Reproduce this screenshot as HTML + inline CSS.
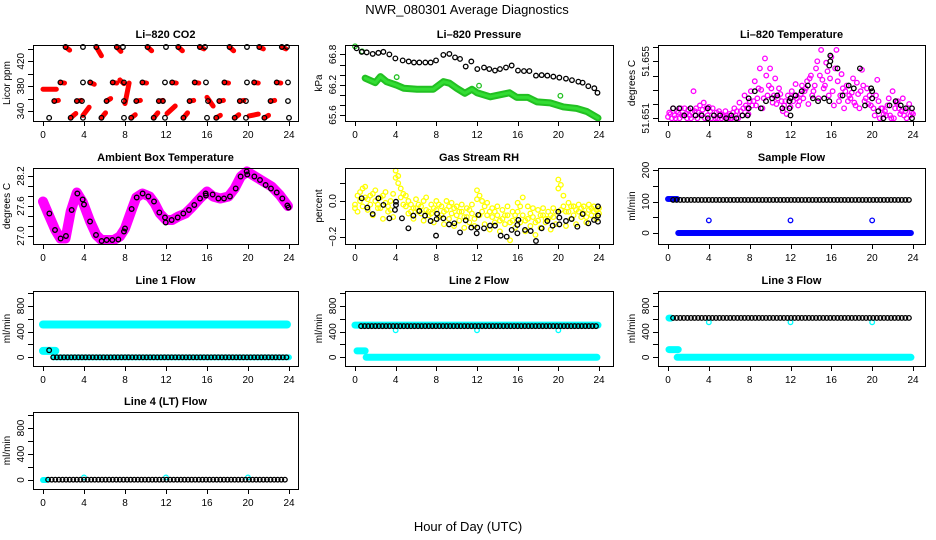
<!DOCTYPE html>
<html><head><meta charset="utf-8"><style>
html,body{margin:0;padding:0;background:#fff;}
svg{display:block;font-family:"Liberation Sans",Arial,sans-serif;}
</style></head><body>
<svg id="chart" width="936" height="540" viewBox="0 0 936 540" xmlns="http://www.w3.org/2000/svg">
<text x="467" y="14" font-size="13" text-anchor="middle">NWR_080301  Average Diagnostics</text>
<text x="468" y="531" font-size="13" text-anchor="middle">Hour of Day (UTC)</text>
</svg>
<script>
// ---------- Data ----------
const xTicks = [0,4,8,12,16,20,24];
// CO2
const co2H = [2.2,3.9,5.2,7.2,7.8,10.2,12.0,13.2,15.3,15.8,18.2,19.9,21.1,23.3,23.8,
  1.7,3.9,4.6,6.8,7.9,9.7,11.9,12.6,14.8,15.9,17.7,19.9,20.6,22.8,23.9,
  1.1,3.3,3.8,6.2,7.9,9.1,11.3,11.7,14.3,16.1,17.2,19.2,19.8,22.2,23.9,
  0.6,2.7,3.9,5.7,7.9,8.6,10.8,11.9,13.7,16.0,16.9,18.7,19.8,21.6,24.0];
const co2V = [443,443,443,443,443,443,443,443,443,443,443,443,443,443,443,
  386,386,386,386,386,386,386,386,386,386,386,386,386,386,386,
  356,356,356,356,356,356,356,356,356,356,356,356,356,356,356,
  329,329,329,329,329,329,329,329,329,329,329,329,329,329,329];
const redH0 = [2.2,5.2,7.2,10.2,13.2,15.3,18.2,21.1,23.3, 1.7,4.6,6.8,9.7,12.6,14.8,17.7,20.6,22.8, 1.1,3.3,6.2,9.1,11.3,14.3,16.0,17.2,19.2,22.2, 2.7,3.9,5.7,8.6,10.8,12.1,13.7,16.9,18.7,20.1,21.6, 0.0,8.0,7.5];
const redV0 = [443,443,443,443,443,443,443,443,443, 386,386,386,386,386,386,386,386,386, 356,356,356,356,356,356,362,356,356,356, 329,333,329,329,329,336,329,329,329,332,329, 375,352,390];
const redH1 = [2.6,5.7,7.6,10.6,13.6,15.7,18.6,21.5,23.7, 2.1,5.0,7.2,10.1,13.0,15.2,18.1,21.0,23.2, 1.5,3.7,6.6,9.5,11.7,14.7,16.6,17.6,19.6,22.6, 3.2,4.5,6.1,9.0,11.2,12.9,14.1,17.3,19.1,21.0,22.0, 1.3,8.4,7.9];
const redV1 = [438,429,436,437,437,440,437,440,440, 385,383,385,385,385,385,385,385,385, 357,357,360,357,357,357,348,357,357,357, 336,346,337,334,337,348,337,333,334,335,333, 375,385,384];
// Pressure
const presH = [0.16,0.66,1.15,1.74,2.30,2.79,3.38,3.97,4.69,5.28,5.80,6.33,6.92,7.44,7.97,8.69,9.28,9.84,10.33,10.89,11.44,12.03,12.69,13.21,13.77,14.26,14.85,15.41,16.03,16.62,17.15,17.80,18.36,18.92,19.51,20.10,20.75,21.34,21.97,22.39,22.95,23.54,23.85];
const presV = [66.92,66.85,66.84,66.81,66.83,66.85,66.80,66.72,66.68,66.66,66.64,66.64,66.64,66.64,66.68,66.79,66.81,66.74,66.71,66.56,66.66,66.51,66.54,66.51,66.48,66.51,66.54,66.58,66.48,66.47,66.47,66.38,66.39,66.38,66.36,66.34,66.32,66.29,66.26,66.24,66.17,66.13,66.04];
const presGH = [0.0,0.7];
const presGV = [66.96,66.86];
const presBandH = [1.0,2.0,2.5,3.1,4.1,4.8,6.1,7.7,8.7,9.3,10.0,10.8,11.5,12.0,13.3,15.2,15.9,17.0,17.9,19.2,20.5,21.8,22.8,23.9];
const presBandV = [66.33,66.24,66.36,66.26,66.19,66.13,66.11,66.11,66.26,66.23,66.13,66.03,66.11,66.04,65.96,66.04,65.95,65.95,65.86,65.84,65.76,65.73,65.67,65.54];
const presOutH = [4.1,12.2,20.2];
const presOutV = [66.35,66.18,65.98];
// Li-820 temperature
const tempMagAH = [0,0.5,1,1.5,2,2.5,3,3.5,4,4.5,5,5.5,6,6.5,7,7.5,8,8.5,9,9.5,10,10.5,11,11.5,12,12.5,13,13.5,14,14.5,15,15.5,16,16.5,17,17.5,18,18.5,19,19.5,20,20.5,21,21.5,22,22.5,23,23.5,24];
const tempMagAV = [51.6511,51.6517,51.6514,51.6512,51.6516,51.6529,51.6514,51.6521,51.6518,51.6512,51.6515,51.6511,51.6513,51.6517,51.6521,51.6526,51.6522,51.6536,51.6545,51.6552,51.6545,51.6538,51.6527,51.6522,51.6518,51.6534,51.6527,51.6531,51.6540,51.6545,51.6558,51.6549,51.6553,51.6558,51.6541,51.6533,51.6528,51.6535,51.6544,51.6531,51.6524,51.6537,51.6517,51.6519,51.6529,51.6522,51.6524,51.6517,51.6513];
const tempMagBH = [0.25,0.75,1.25,1.75,2.25,2.75,3.25,3.75,4.25,4.75,5.25,5.75,6.25,6.75,7.25,7.75,8.25,8.75,9.25,9.75,10.25,10.75,11.25,11.75,12.25,12.75,13.25,13.75,14.25,14.75,15.25,15.75,16.25,16.75,17.25,17.75,18.25,18.75,19.25,19.75,20.25,20.75,21.25,21.75,22.25,22.75,23.25,23.75];
const tempMagBV = [51.6513,51.6510,51.6517,51.6513,51.6510,51.6517,51.6513,51.6517,51.6510,51.6514,51.6510,51.6512,51.6510,51.6515,51.6512,51.6517,51.6519,51.6524,51.6517,51.6526,51.6521,51.6524,51.6515,51.6526,51.6522,51.6519,51.6524,51.6520,51.6529,51.6524,51.6531,51.6526,51.6519,51.6522,51.6517,51.6526,51.6521,51.6517,51.6522,51.6526,51.6512,51.6510,51.6515,51.6512,51.6517,51.6513,51.6515,51.6512];
const tempMagCH = [0.125,0.625,1.125,1.625,2.125,2.625,3.125,3.625,4.125,4.625,5.125,5.625,6.125,6.625,7.125,7.625,8.125,8.625,9.125,9.625,10.125,10.625,11.125,11.625,12.125,12.625,13.125,13.625,14.125,14.625,15.125,15.625,16.125,16.625,17.125,17.625,18.125,18.625,19.125,19.625,20.125,20.625,21.125,21.625,22.125,22.625,23.125,23.625];
const tempMagCV = [51.6514,51.6512,51.6510,51.6517,51.6512,51.6515,51.6519,51.6510,51.6515,51.6510,51.6513,51.6515,51.6510,51.6512,51.6515,51.6519,51.6529,51.6519,51.6530,51.6540,51.6531,51.6520,51.6522,51.6513,51.6529,51.6524,51.6533,51.6536,51.6526,51.6550,51.6537,51.6543,51.6529,51.6536,51.6531,51.6522,51.6538,51.6527,51.6533,51.6520,51.6517,51.6522,51.6513,51.6524,51.6510,51.6517,51.6512,51.6520];
const tempMagDH = [0.375,0.875,1.375,1.875,2.375,2.875,3.375,3.875,4.375,4.875,5.375,5.875,6.375,6.875,7.375,7.875,8.375,8.875,9.375,9.875,10.375,10.875,11.375,11.875,12.375,12.875,13.375,13.875,14.375,14.875,15.375,15.875,16.375,16.875,17.375,17.875,18.375,18.875,19.375,19.875,20.375,20.875,21.375,21.875,22.375,22.875,23.375,23.875];
const tempMagDV = [51.6510,51.6515,51.6512,51.6510,51.6514,51.6510,51.6516,51.6512,51.6517,51.6510,51.6512,51.6510,51.6514,51.6510,51.6517,51.6513,51.6522,51.6531,51.6524,51.6533,51.6526,51.6531,51.6519,51.6522,51.6526,51.6522,51.6529,51.6538,51.6533,51.6540,51.6533,51.6538,51.6545,51.6526,51.6529,51.6524,51.6519,51.6529,51.6524,51.6519,51.6526,51.6517,51.6512,51.6510,51.6521,51.6515,51.6510,51.6514];
const tempBlkH = [0.5,1.1,1.6,2.2,2.7,3.3,3.9,3.9,4.5,5.1,5.7,6.2,6.7,7.3,7.8,7.9,7.9,8.5,9.1,9.6,10.2,10.7,11.2,11.9,11.9,12.0,12.0,12.5,13.1,13.7,14.2,14.7,15.3,15.8,15.8,15.9,15.9,16.6,17.1,17.7,18.2,18.8,19.3,19.9,20.0,20.0,20.6,21.1,21.7,22.3,22.8,23.3,23.9,23.9];
const tempBlkV = [51.6517,51.6517,51.6512,51.6517,51.6512,51.6512,51.6517,51.6510,51.6512,51.6512,51.6510,51.6512,51.6510,51.6512,51.6512,51.6517,51.6524,51.6529,51.6517,51.6522,51.6524,51.6526,51.6517,51.6517,51.6522,51.6512,51.6524,51.6526,51.6529,51.6533,51.6524,51.6522,51.6524,51.6522,51.6547,51.6550,51.6554,51.6545,51.6526,51.6533,51.6531,51.6545,51.6519,51.6531,51.6529,51.6524,51.6515,51.6510,51.6519,51.6522,51.6519,51.6517,51.6517,51.6510];
// Ambient box temperature
const ambBandH = [0,0.5,1.2,1.7,2.2,2.7,3.3,3.9,4.6,5.2,5.7,6.9,7.5,8.0,8.7,9.1,9.7,10.4,10.9,11.4,12.0,12.6,13.2,13.9,14.5,15.3,16.0,16.6,17.3,18.1,18.7,19.3,19.9,20.7,21.5,22.3,23.1,23.9];
const ambBandV = [27.69,27.45,27.12,26.95,26.95,27.49,27.87,27.67,27.29,27.02,26.92,26.92,26.99,27.15,27.55,27.77,27.85,27.79,27.65,27.45,27.32,27.32,27.39,27.45,27.57,27.75,27.89,27.79,27.75,27.79,27.95,28.19,28.29,28.19,28.09,27.99,27.82,27.60];
const ambBlkH = [0.62,1.17,1.72,2.24,2.80,3.35,3.87,4.0,4.59,5.17,5.72,6.21,6.76,7.35,7.90,8.0,8.65,9.14,9.72,10.28,10.83,11.35,11.90,11.97,12.55,13.14,13.69,14.24,14.76,15.32,15.87,15.90,16.55,17.11,17.66,18.24,18.80,19.28,19.87,19.93,20.62,21.17,21.72,22.24,22.80,23.35,23.84,23.95];
const ambBlkV = [27.45,27.12,26.95,27.0,27.52,27.85,27.73,27.63,27.29,27.02,26.9,26.92,26.92,26.93,27.09,27.15,27.54,27.77,27.85,27.79,27.69,27.47,27.37,27.27,27.32,27.37,27.45,27.52,27.62,27.75,27.85,27.81,27.83,27.75,27.75,27.79,27.95,28.19,28.29,28.23,28.19,28.12,28.02,27.95,27.87,27.75,27.61,27.57];
// Gas stream RH
const rhHalfH = [0,0.5,1,1.5,2,2.5,3,3.5,4,4.5,5,5.5,6,6.5,7,7.5,8,8.5,9,9.5,10,10.5,11,11.5,12,12.5,13,13.5,14,14.5,15,15.5,16,16.5,17,17.5,18,18.5,19,19.5,20,20.5,21,21.5,22,22.5,23,23.5,24];
const rhHiV = [-0.02,0.05,0.08,0.03,0.06,0.02,0.05,0.00,0.17,0.07,0.03,-0.02,0.01,-0.03,0.02,-0.02,0.00,-0.03,0.00,-0.01,-0.03,-0.02,-0.04,-0.02,0.06,0.00,-0.01,-0.04,-0.03,-0.05,-0.03,-0.06,-0.01,0.02,-0.03,-0.04,-0.05,-0.04,-0.06,-0.04,0.12,0.03,-0.01,-0.03,-0.02,-0.03,-0.02,-0.03,-0.04];
const rhMidV = [-0.04,0.00,0.02,-0.02,0.00,-0.04,-0.01,-0.05,0.13,0.02,-0.03,-0.06,-0.04,-0.07,-0.05,-0.07,-0.05,-0.08,-0.05,-0.07,-0.08,-0.06,-0.09,-0.07,0.01,-0.06,-0.08,-0.09,-0.08,-0.10,-0.08,-0.11,-0.06,-0.08,-0.10,-0.09,-0.11,-0.08,-0.10,-0.09,0.07,-0.03,-0.06,-0.08,-0.06,-0.07,-0.05,-0.06,-0.07];
const rhLoH = [0.25,0.75,1.25,1.75,2.25,2.75,3.25,3.75,4.25,4.75,5.25,5.75,6.25,6.75,7.25,7.75,8.25,8.75,9.25,9.75,10.25,10.75,11.25,11.75,12.25,12.75,13.25,13.75,14.25,14.75,15.25,15.75,16.25,16.75,17.25,17.75,18.25,18.75,19.25,19.75,20.25,20.75,21.25,21.75,22.25,22.75,23.25,23.75];
const rhLoV = [-0.06,-0.03,-0.05,-0.08,-0.04,-0.10,-0.06,-0.09,0.10,-0.02,-0.07,-0.10,-0.06,-0.11,-0.08,-0.12,-0.09,-0.13,-0.10,-0.14,-0.11,-0.15,-0.12,-0.14,-0.08,-0.13,-0.16,-0.12,-0.17,-0.13,-0.22,-0.15,-0.12,-0.17,-0.14,-0.19,-0.15,-0.12,-0.16,-0.13,-0.05,-0.14,-0.10,-0.13,-0.09,-0.12,-0.08,-0.10];
const rhXV = [0.03,0.07,0.01,0.04,-0.02,0.03,-0.03,0.04,0.14,0.04,0.00,-0.04,-0.02,0.00,-0.06,-0.04,-0.02,-0.06,-0.03,-0.04,-0.06,-0.09,-0.05,-0.10,0.03,-0.03,-0.06,-0.06,-0.11,-0.08,-0.12,-0.08,-0.03,-0.11,-0.07,-0.12,-0.08,-0.10,-0.08,-0.06,0.09,-0.06,-0.03,-0.05,-0.04,-0.09,-0.04,-0.05];
const rhBlkH = [0.66,1.21,1.74,2.30,2.79,3.38,3.93,4.03,4.03,4.62,5.25,5.74,6.33,6.89,7.44,7.97,8.03,8.07,8.69,9.25,9.77,10.33,10.89,11.44,11.97,12.03,12.13,12.69,13.28,13.77,14.33,14.92,15.41,15.97,15.97,16.07,16.72,17.28,17.80,18.36,18.92,19.44,20.0,20.10,20.10,20.75,21.31,21.87,22.39,22.95,23.51,23.9,23.9,23.9];
const rhBlkV = [0.015,-0.037,-0.073,0.015,-0.022,-0.097,-0.05,-0.022,-0.004,-0.097,-0.153,-0.082,-0.056,-0.082,-0.112,-0.194,-0.101,-0.071,-0.097,-0.131,-0.125,-0.176,-0.108,-0.149,-0.181,-0.149,-0.078,-0.153,-0.138,-0.138,-0.194,-0.2,-0.162,-0.181,-0.134,-0.106,-0.162,-0.168,-0.224,-0.153,-0.112,-0.138,-0.06,-0.093,-0.131,-0.112,-0.101,-0.144,-0.073,-0.125,-0.106,-0.082,-0.03,-0.116];
// Flow panels: level segments [start hour, end hour, value]
const sampBlkSeg = [[0.5,23.9,105]];
const sampBlueSeg = [[0.0,0.9,108],[1.0,23.8,0]];
const sampOutH = [4,12,20];
const sampOutV = [40,40,40];
const l1CyanBand = [[0.0,23.8,510],[0.0,1.2,100]];
const l1CyanSeg = [[1.0,24.0,0]];
const l1BlkSeg = [[1.0,24.0,0]];
const l1BlkH = [0.6]; const l1BlkV = [110];
const l2CyanBand = [[0.0,23.9,500],[0.2,1.0,100],[1.1,23.8,0]];
const l2BlkSeg = [[0.6,23.9,485]];
const l2OutH = [4,12,20]; const l2OutV = [420,420,420];
const l3CyanBand = [[0.1,0.3,610],[0.1,1.0,120],[0.9,23.8,0]];
const l3BlkSeg = [[0.5,23.9,612]];
const l3OutH = [4,12,20]; const l3OutV = [545,545,545];
const l4CyanBand = [[0.0,0.3,0]];
const l4BlkSeg = [[0.5,23.9,5]];
const l4OutH = [4,12,20]; const l4OutV = [40,40,40];

// ---------- Drawing ----------
const NS = "http://www.w3.org/2000/svg";
const svg = document.getElementById('chart');
const cols = [{L:33,R:298,x0:43,x24:289},{L:345,R:613,x0:355,x24:599},{L:658,R:925,x0:668,x24:913}];
const rows = [{T:45,B:121},{T:168,B:244},{T:291,B:366},{T:412,B:489}];
function mk(tag, attrs, parent){
  const e = document.createElementNS(NS, tag);
  for (const k in attrs) e.setAttribute(k, attrs[k]);
  (parent||svg).appendChild(e);
  return e;
}
function panel(ci, ri, name, title, ylab, a, b, ticks, labels){
  const c = cols[ci], r = rows[ri];
  const g = mk('g', {});
  
  
  const sx = h => c.x0 + (c.x24 - c.x0) * h / 24;
  const sy = v => a[1] + (b[1] - a[1]) * (v - a[0]) / (b[0] - a[0]);
  const t = mk('text', {x:(c.L+c.R)/2, y:r.T-7, 'font-size':11, 'font-weight':'bold', 'text-anchor':'middle'}, g);
  t.textContent = title;
  
  
  const yl = mk('text', {x:0, y:0, 'font-size':10, 'text-anchor':'middle', transform:`translate(${c.L-23},${(r.T+r.B)/2}) rotate(-90)`}, g);
  yl.textContent = ylab;
  
  
  const plot = mk('g', {}, g);
  
  
  const ax = mk('g', {stroke:'#000', 'stroke-width':1}, g);
  
  
  mk('rect', {x:c.L+0.5, y:r.T+0.5, width:c.R-c.L, height:r.B-r.T, fill:'none'}, ax);
  mk('line', {x1:sx(0), x2:sx(24), y1:r.B+0.5, y2:r.B+0.5}, ax);
  xTicks.forEach(h => {
    mk('line', {x1:Math.round(sx(h))+0.5, x2:Math.round(sx(h))+0.5, y1:r.B, y2:r.B+5}, ax);
    const tl = mk('text', {x:sx(h), y:r.B+17, 'font-size':10, 'text-anchor':'middle', stroke:'none'}, g);
    tl.textContent = h;
    
    
  });
  ticks.forEach(v => {
    const y = Math.round(sy(v)) + 0.5;
    mk('line', {x1:c.L-5, x2:c.L, y1:y, y2:y}, ax);
  });
  labels.forEach(l => {
    const tl = mk('text', {x:0, y:0, 'font-size':10, 'text-anchor':'middle', transform:`translate(${c.L-9},${sy(l[0])}) rotate(-90)`}, g);
    tl.textContent = l[1];
    
    
  });
  return {sx, sy, g:plot};
}
function pts(p, H, V, color, nm, r){
  const g = mk('g', {fill:'none', stroke:color, 'stroke-width':1.3}, p.g);
  
  
  H.forEach((h,i) => {
    const e = mk('circle', {cx:p.sx(h), cy:p.sy(V[i]), r:r||2.3}, g);
    
    
  });
}
function band(p, H, V, color, w, nm){
  const e = mk('polyline', {points:H.map((h,i)=>p.sx(h)+','+p.sy(V[i])).join(' '), fill:'none', stroke:color, 'stroke-width':w, 'stroke-linecap':'round', 'stroke-linejoin':'round'}, p.g);
  
  
}
function segBands(p, segs, color, w, nm){
  segs.forEach(s => band(p, [s[0], s[1]], [s[2], s[2]], color, w, nm));
}
function segPts(p, segs, color, step, nm){
  segs.forEach(s => {
    const H = [], V = [];
    for (let h = s[0]; h <= s[1] + 1e-6; h += step){ H.push(h); V.push(s[2]); }
    pts(p, H, V, color, nm);
  });
}

// Panel 1: CO2
let p = panel(0,0,'co2','Li\u2013820 CO2','Licor ppm',[340,111],[420,61.3],[340,360,380,400,420,440],[[340,'340'],[380,'380'],[420,'420']]);
redH0.forEach((h,i) => band(p,[h,redH1[i]],[redV0[i],redV1[i]],'#ff0000',5,'co2-red-streak'));
pts(p, co2H, co2V, '#000', 'co2-black-series');
// Panel 2: Pressure
p = panel(1,0,'pressure','Li\u2013820 Pressure','kPa',[65.6,115],[66.8,54.4],[65.6,65.8,66.0,66.2,66.4,66.6,66.8],[[65.6,'65.6'],[66.2,'66.2'],[66.8,'66.8']]);
band(p, presBandH, presBandV, '#22c022', 7, 'pressure-green-band');
band(p, presBandH, presBandV, '#33dd33', 3, 'pressure-green-band-core');
pts(p, presGH, presGV, '#22c022', 'pressure-green-series');
pts(p, presOutH, presOutV, '#22c022', 'pressure-green-outliers');
pts(p, presH, presV, '#000', 'pressure-black-series');
// Panel 3: Li-820 temperature
p = panel(2,0,'li820-temp','Li\u2013820 Temperature','degrees C',[51.651,118.3],[51.655,61.3],[51.651,51.652,51.653,51.654,51.655,51.656],[[51.651,'51.651'],[51.655,'51.655']]);
pts(p, tempMagAH, tempMagAV, '#ff00ff', 'temp-magenta-series-a');
pts(p, tempMagBH, tempMagBV, '#ff00ff', 'temp-magenta-series-b');
pts(p, tempMagCH, tempMagCV, '#ff00ff', 'temp-magenta-series-c');
pts(p, tempMagDH, tempMagDV, '#ff00ff', 'temp-magenta-series-d');
pts(p, tempBlkH, tempBlkV, '#000', 'temp-black-series');
// Panel 4: Ambient box temperature
p = panel(0,1,'ambient','Ambient Box Temperature','degrees C',[27.0,236],[28.2,176],[27.0,27.2,27.4,27.6,27.8,28.0,28.2],[[27.0,'27.0'],[27.6,'27.6'],[28.2,'28.2']]);
band(p, ambBandH, ambBandV, '#ff00ff', 10, 'ambient-magenta-band');
pts(p, ambBlkH, ambBlkV, '#000', 'ambient-black-series');
// Panel 5: Gas stream RH
p = panel(1,1,'rh','Gas Stream RH','percent',[0,201],[-0.2,236.7],[-0.2,-0.1,0,0.1],[[-0.2,'\u22120.2'],[0,'0.0']]);
pts(p, rhHalfH, rhHiV, '#ffff00', 'rh-yellow-upper');
pts(p, rhHalfH, rhMidV, '#ffff00', 'rh-yellow-mid');
pts(p, rhLoH, rhLoV, '#ffff00', 'rh-yellow-lower');
pts(p, rhLoH, rhXV, '#ffff00', 'rh-yellow-extra');
pts(p, rhBlkH, rhBlkV, '#000', 'rh-black-series');
// Panel 6: Sample flow
p = panel(2,1,'sample-flow','Sample Flow','ml/min',[0,233],[200,170],[0,50,100,150,200],[[0,'0'],[100,'100'],[200,'200']]);
segPts(p, sampBlueSeg, '#0000ff', 0.1, 'sample-blue-series');
pts(p, sampOutH, sampOutV, '#0000ff', 'sample-blue-outliers');
segPts(p, sampBlkSeg, '#000', 0.35, 'sample-black-series');
// Panels 7-10: line flows
const flowTicks = [0,200,400,600,800,1000];
const flowLabels = [[0,'0'],[400,'400'],[800,'800']];
p = panel(0,2,'line1','Line 1 Flow','ml/min',[0,357.3],[1000,293],flowTicks,flowLabels);
segBands(p, l1CyanBand, '#00ffff', 8, 'line1-cyan-band');
segPts(p, l1CyanSeg, '#00ffff', 0.1, 'line1-cyan-series');
segPts(p, l1BlkSeg, '#000', 0.35, 'line1-black-series');
pts(p, l1BlkH, l1BlkV, '#000', 'line1-black-start');
p = panel(1,2,'line2','Line 2 Flow','ml/min',[0,357.3],[1000,293],flowTicks,flowLabels);
segBands(p, l2CyanBand, '#00ffff', 7, 'line2-cyan-band');
pts(p, l2OutH, l2OutV, '#00ffff', 'line2-cyan-outliers');
segPts(p, l2BlkSeg, '#000', 0.35, 'line2-black-series');
p = panel(2,2,'line3','Line 3 Flow','ml/min',[0,357.3],[1000,293],flowTicks,flowLabels);
segBands(p, l3CyanBand, '#00ffff', 7, 'line3-cyan-band');
pts(p, l3OutH, l3OutV, '#00ffff', 'line3-cyan-outliers');
segPts(p, l3BlkSeg, '#000', 0.35, 'line3-black-series');
p = panel(0,3,'line4','Line 4 (LT) Flow','ml/min',[0,480],[1000,415],flowTicks,flowLabels);
segBands(p, l4CyanBand, '#00ffff', 6, 'line4-cyan-band');
pts(p, l4OutH, l4OutV, '#00ffff', 'line4-cyan-outliers');
segPts(p, l4BlkSeg, '#000', 0.35, 'line4-black-series');
</script>
</body></html>
